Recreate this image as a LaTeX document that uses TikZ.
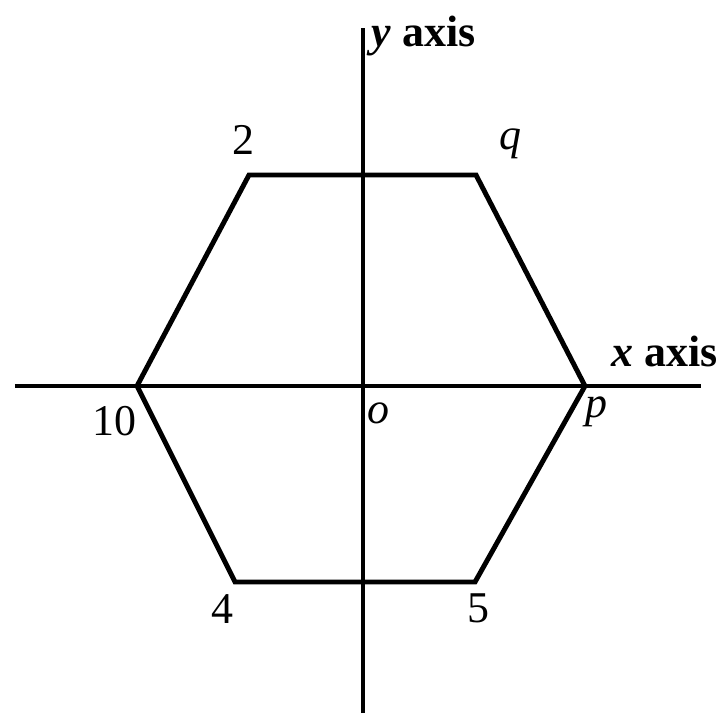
\documentclass[tikz,border=0pt]{standalone}
\usepackage{fontspec}
\setmainfont{Liberation Serif}
\tikzset{
    lbl/.style={anchor=base, inner sep=0pt, font=\fontsize{12.5}{14}\selectfont},
    edge/.style={line width=1.4pt, line join=miter},
}
\begin{document}
\begin{tikzpicture}
        \useasboundingbox (0,0) rectangle (7.2,7.13);
        % points
            \coordinate (o) at (3.63,3.27);
            \coordinate (xl) at (0.15,3.27);
            \coordinate (xr) at (7.01,3.27);
            \coordinate (yt) at (3.63,6.85);
            \coordinate (yb) at (3.63,0);
            \foreach \n/\x/\y in {v2/2.49/5.38,vq/4.76/5.38,vp/5.85/3.27,v5/4.75/1.31,v4/2.35/1.31,v10/1.37/3.27}{
                \coordinate (\n) at (\x,\y);
            }
        % axes
            \draw[line width=1.3pt] (xl) -- (xr);
            \draw[line width=1.3pt] (yb) -- (yt);
        % hexagon
            \draw[edge] (v2) -- (vq) -- (vp) -- (v5) -- (v4) -- (v10) -- cycle;
        % labels
            \foreach \n/\x/\y/\t in {l2/2.43/5.58/2,l10/1.14/2.78/10,l4/2.22/0.90/4,l5/4.78/0.91/5}{
                \node[lbl] (\n) at (\x,\y) {\t};
            }
            \node[lbl] (lq) at (5.10,5.63) {\textit{q}};
            \node[lbl] (lo) at (3.78,2.90) {\textit{o}};
            \node[lbl] (lp) at (5.96,2.96) {\textit{p}};
            \node[lbl, anchor=base west] (ylab) at (3.71,6.66) {\textbf{\textit{y} axis}};
            \node[lbl, anchor=base west] (xlab) at (6.11,3.47) {\textbf{\textit{x} axis}};
        \end{tikzpicture}
\end{document}
